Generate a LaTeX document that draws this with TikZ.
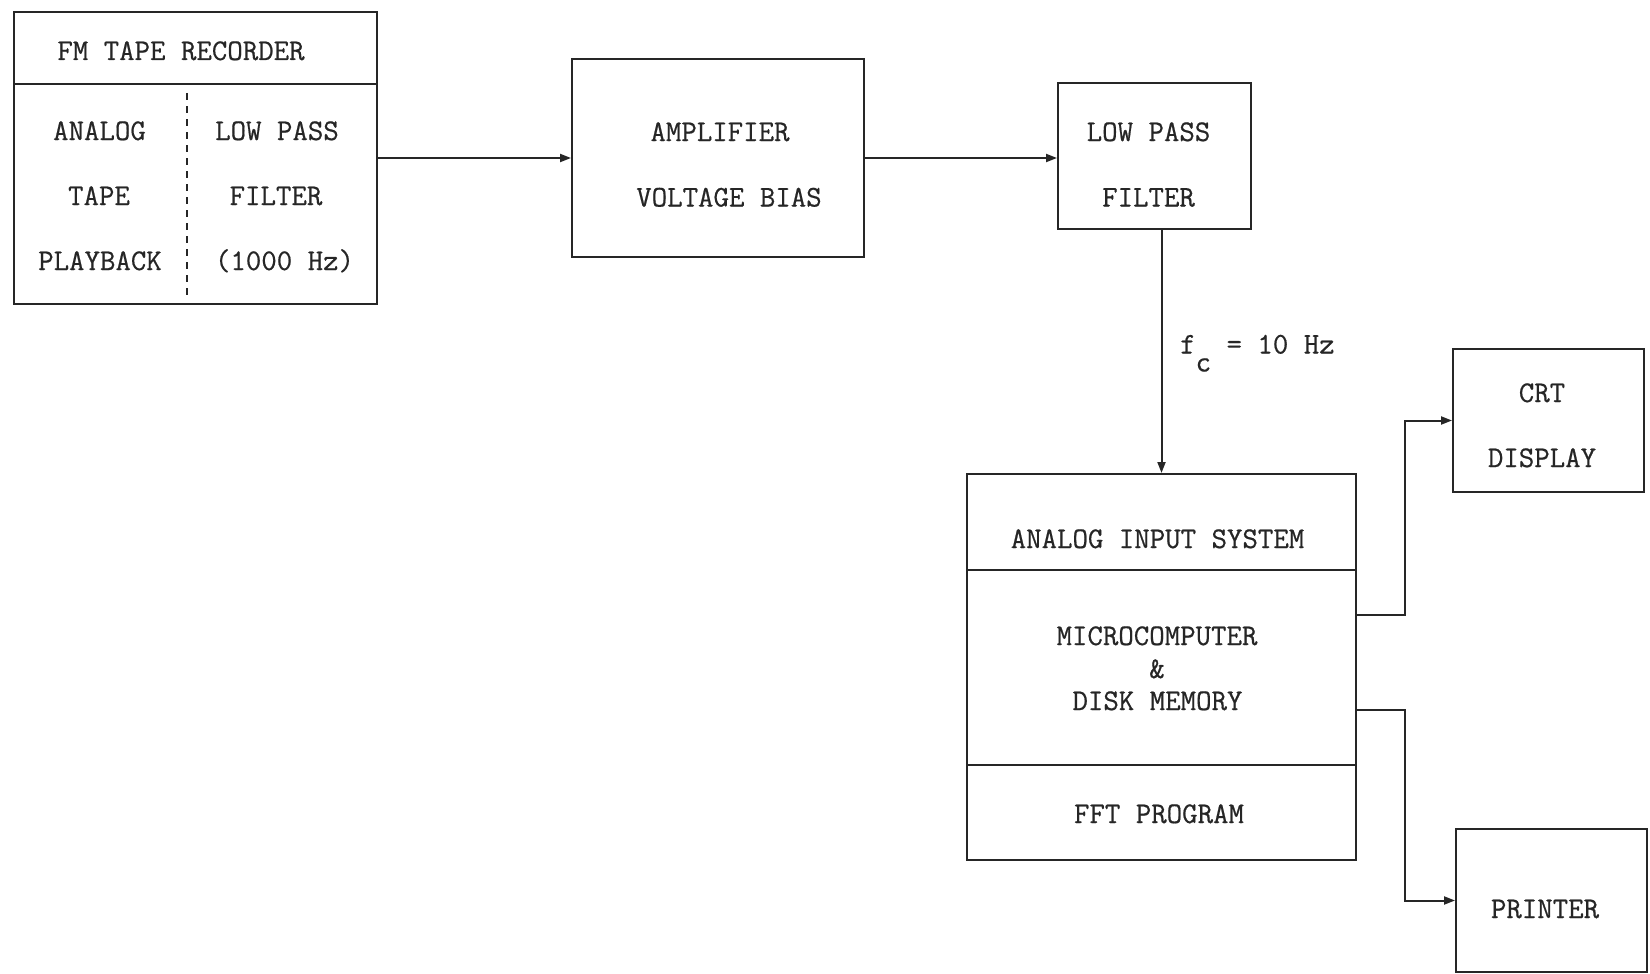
\documentclass[tikz,border=0pt]{standalone}
\usepackage{fontspec}
\newfontfamily\twfont{Latin Modern Mono}[FakeBold=0.6]
\usetikzlibrary{arrows.meta,calc}
\definecolor{ink}{HTML}{262626}
\begin{document}
\begin{tikzpicture}[x=1pt,y=-1pt,
  box/.style={draw=ink,line width=2pt,inner sep=0pt,fill=none},
  lbl/.style={text=ink,font=\twfont\fontsize{30}{36}\selectfont,inner sep=0pt,anchor=base},
  divider/.style={draw=ink,line width=2pt},
  dashsep/.style={draw=ink,line width=2pt,dash pattern=on 7pt off 6pt},
  conn/.style={draw=ink,line width=2pt,-{Triangle[length=11pt,width=8pt]}}]
\useasboundingbox (0,0) rectangle (1650,974);
% boxes
\node[box,minimum width=363pt,minimum height=292pt] (fm) at (195.5,158) {};
\node[box,minimum width=292pt,minimum height=198pt] (amp) at (718,158) {};
\node[box,minimum width=193pt,minimum height=146pt] (lp) at (1154.5,156) {};
\node[box,minimum width=389pt,minimum height=386pt] (ais) at (1161.5,667) {};
\node[box,minimum width=191pt,minimum height=143pt] (crt) at (1548.5,420.5) {};
\node[box,minimum width=191pt,minimum height=143pt] (prn) at (1551.5,900.5) {};
% internal lines
\coordinate (fmhead) at (0,84);
\coordinate (fmdash) at (187,0);
\draw[divider] (fm.west |- fmhead) -- (fm.east |- fmhead);
\draw[dashsep] (fmdash |- 0,93) -- (fmdash |- 0,297);
\coordinate (aisA) at (0,570);
\coordinate (aisB) at (0,765);
\draw[divider] (ais.west |- aisA) -- (ais.east |- aisA);
\draw[divider] (ais.west |- aisB) -- (ais.east |- aisB);
% texts
\node[lbl] (t1) at (181,60) {FM TAPE RECORDER};
\node[lbl] (t2) at (99.5,140) {ANALOG};
\node[lbl] (t3) at (99,205) {TAPE};
\node[lbl] (t4) at (100,270) {PLAYBACK};
\node[lbl] (t5) at (277,140) {LOW PASS};
\node[lbl] (t6) at (276,205) {FILTER};
\node[lbl] (t7) at (284.5,270) {(1000 Hz)};
\node[lbl] (t8) at (720,141) {AMPLIFIER};
\node[lbl] (t9) at (729,206.5) {VOLTAGE BIAS};
\node[lbl] (t10) at (1148.5,141) {LOW PASS};
\node[lbl] (t11) at (1148.5,206.5) {FILTER};
\node[lbl,anchor=base west] (t12) at (1180,353.5) {f\raisebox{-18pt}{c} = 10 Hz};
\node[lbl] (t13) at (1157.5,548) {ANALOG INPUT SYSTEM};
\node[lbl] (t14) at (1157,645) {MICROCOMPUTER};
\node[lbl] (t15) at (1157,678) {\&};
\node[lbl] (t16) at (1157.5,710) {DISK MEMORY};
\node[lbl] (t17) at (1159,823) {FFT PROGRAM};
\node[lbl] (t18) at (1542,402) {CRT};
\node[lbl] (t19) at (1542,467) {DISPLAY};
\node[lbl] (t20) at (1545,918) {PRINTER};
% connectors
\draw[conn] (fm.east) -- (amp.west);
\draw[conn] (amp.east) -- (amp.east -| lp.west);
\draw[conn] (ais.north |- lp.south) -- (ais.north);
\coordinate (bus) at (1405,0);
\draw[conn] (ais.east |- 0,615) -- (bus |- 0,615) |- (crt.west);
\draw[conn] (ais.east |- 0,710) -- (bus |- 0,710) |- (prn.west);
\end{tikzpicture}
\end{document}
